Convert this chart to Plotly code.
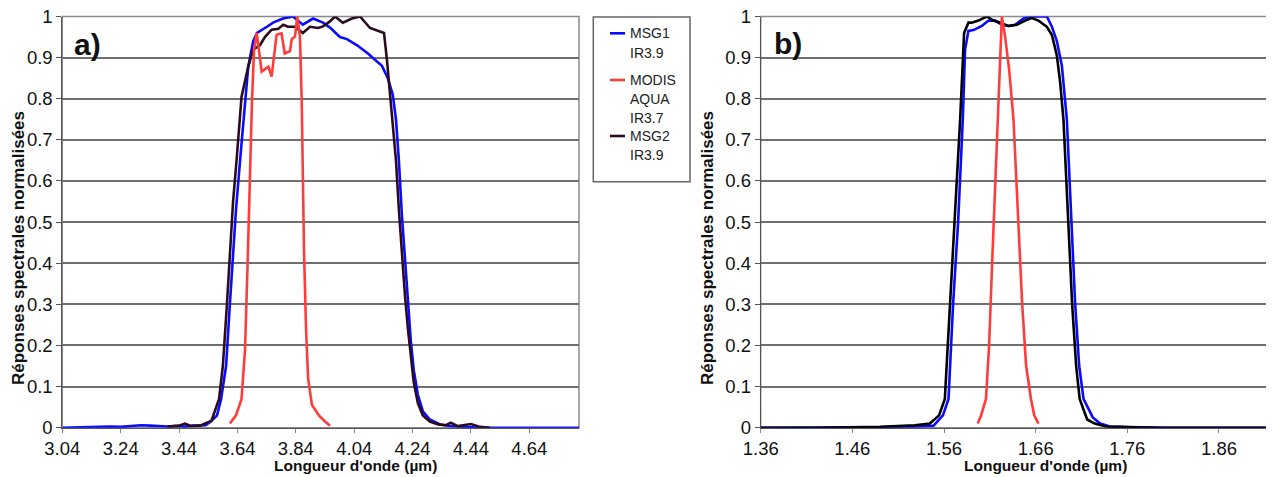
import plotly.graph_objects as go

# ---------------- DATA ----------------
# Panel a) : wavelengths (µm) and normalised responses
msg1_a_wl = [3.040, 3.080, 3.120, 3.160, 3.200, 3.240, 3.280, 3.310, 3.340, 3.370, 3.400, 3.430, 3.460, 3.490,
             3.531, 3.549, 3.570, 3.584, 3.601, 3.614, 3.625, 3.635, 3.649, 3.666, 3.677, 3.694, 3.707, 3.741,
             3.762, 3.796, 3.830, 3.864, 3.899, 3.933, 3.957, 3.991, 4.015, 4.050, 4.070, 4.087, 4.111, 4.135,
             4.155, 4.172, 4.183, 4.193, 4.203, 4.214, 4.224, 4.234, 4.244, 4.258, 4.275, 4.299, 4.334, 4.368,
             4.419, 4.471, 4.550, 4.650, 4.750, 4.810]
msg1_a_val = [0.000, 0.001, 0.002, 0.002, 0.003, 0.002, 0.004, 0.006, 0.005, 0.004, 0.003, 0.004, 0.003, 0.005,
              0.006, 0.015, 0.030, 0.070, 0.150, 0.300, 0.420, 0.530, 0.650, 0.800, 0.878, 0.940, 0.960, 0.975,
              0.985, 0.995, 1.000, 0.980, 0.995, 0.985, 0.973, 0.950, 0.945, 0.930, 0.920, 0.910, 0.895, 0.880,
              0.850, 0.810, 0.750, 0.650, 0.520, 0.400, 0.300, 0.210, 0.140, 0.080, 0.040, 0.020, 0.008, 0.004,
              0.002, 0.000, 0.000, 0.000, 0.000, 0.000]

modis_a_wl = [3.614, 3.635, 3.654, 3.666, 3.676, 3.683, 3.690, 3.697, 3.706, 3.723, 3.740, 3.746, 3.757, 3.774,
              3.780, 3.791, 3.802, 3.820, 3.826, 3.837, 3.845, 3.854, 3.860, 3.863, 3.868, 3.875, 3.882, 3.895,
              3.919, 3.940, 3.957]
modis_a_val = [0.010, 0.030, 0.070, 0.190, 0.430, 0.630, 0.800, 0.920, 0.960, 0.866, 0.874, 0.878, 0.854, 0.955,
               0.957, 0.959, 0.910, 0.916, 0.945, 0.951, 1.000, 0.951, 0.800, 0.650, 0.430, 0.240, 0.120, 0.056,
               0.030, 0.015, 0.005]

msg2_a_wl = [3.400, 3.440, 3.460, 3.480, 3.512, 3.551, 3.577, 3.590, 3.604, 3.614, 3.625, 3.637, 3.654, 3.677,
             3.694, 3.717, 3.734, 3.757, 3.780, 3.797, 3.813, 3.837, 3.864, 3.888, 3.916, 3.933, 3.957, 3.974,
             4.001, 4.032, 4.060, 4.094, 4.128, 4.142, 4.152, 4.162, 4.172, 4.183, 4.193, 4.203, 4.214, 4.224,
             4.234, 4.244, 4.258, 4.275, 4.299, 4.327, 4.354, 4.371, 4.395, 4.440, 4.471, 4.505]
msg2_a_val = [0.003, 0.005, 0.010, 0.004, 0.005, 0.017, 0.070, 0.150, 0.300, 0.430, 0.550, 0.651, 0.805, 0.878,
              0.920, 0.930, 0.950, 0.968, 0.970, 0.980, 0.975, 0.975, 0.960, 0.975, 0.972, 0.976, 0.988, 1.000,
              0.985, 0.995, 1.000, 0.972, 0.963, 0.960, 0.895, 0.820, 0.750, 0.650, 0.530, 0.420, 0.320, 0.240,
              0.170, 0.110, 0.060, 0.030, 0.015, 0.008, 0.006, 0.012, 0.004, 0.009, 0.002, 0.000]

# Panel b)
msg1_b_wl = [1.360, 1.420, 1.490, 1.528, 1.5486, 1.5588, 1.5649, 1.5699, 1.5754, 1.5805, 1.5830, 1.5866, 1.5921,
             1.6013, 1.6085, 1.6158, 1.6231, 1.6303, 1.6376, 1.6467, 1.6558, 1.6722, 1.6777, 1.6831, 1.6886,
             1.6940, 1.6987, 1.7031, 1.7075, 1.7122, 1.7223, 1.7304, 1.7408, 1.7632, 1.800, 1.860, 1.920]
msg1_b_val = [0.000, 0.000, 0.001, 0.003, 0.005, 0.030, 0.070, 0.300, 0.500, 0.750, 0.920, 0.965, 0.967,
              0.977, 0.990, 0.990, 0.980, 0.977, 0.980, 0.995, 1.000, 1.000, 0.975, 0.940, 0.880,
              0.750, 0.500, 0.300, 0.150, 0.070, 0.025, 0.010, 0.003, 0.001, 0.000, 0.000, 0.000]

modis_b_wl = [1.5968, 1.6005, 1.6058, 1.6092, 1.6125, 1.6158, 1.6183, 1.6207, 1.6231, 1.6267, 1.6311, 1.6358,
              1.6409, 1.6453, 1.6496, 1.6549, 1.6584, 1.6631]
modis_b_val = [0.010, 0.030, 0.070, 0.200, 0.400, 0.600, 0.750, 0.900, 1.000, 0.950, 0.870, 0.750,
               0.500, 0.300, 0.150, 0.070, 0.030, 0.010]

msg2_b_wl = [1.360, 1.420, 1.4902, 1.5121, 1.5281, 1.5445, 1.5546, 1.5609, 1.5667, 1.5721, 1.5776, 1.5819,
             1.5866, 1.5903, 1.5976, 1.6067, 1.6139, 1.6212, 1.6303, 1.6395, 1.6485, 1.6558, 1.6631, 1.6722,
             1.6777, 1.6831, 1.6867, 1.6903, 1.6955, 1.6998, 1.7042, 1.7080, 1.7162, 1.7244, 1.7366, 1.7632,
             1.800, 1.860, 1.920]
msg2_b_val = [0.000, 0.000, 0.002, 0.004, 0.006, 0.010, 0.030, 0.070, 0.300, 0.500, 0.750, 0.960,
              0.985, 0.985, 0.990, 1.000, 0.990, 0.985, 0.977, 0.980, 0.990, 0.996, 0.990, 0.975,
              0.955, 0.905, 0.840, 0.750, 0.500, 0.300, 0.150, 0.070, 0.020, 0.010, 0.003, 0.001,
              0.000, 0.000, 0.000]

a_xticks = [3.04, 3.24, 3.44, 3.64, 3.84, 4.04, 4.24, 4.44, 4.64]
a_xticktext = ["3.04", "3.24", "3.44", "3.64", "3.84", "4.04", "4.24", "4.44", "4.64"]
b_xticks = [1.36, 1.46, 1.56, 1.66, 1.76, 1.86]
b_xticktext = ["1.36", "1.46", "1.56", "1.66", "1.76", "1.86"]
yticks = [0, 0.1, 0.2, 0.3, 0.4, 0.5, 0.6, 0.7, 0.8, 0.9, 1.0]
yticktext = ["0", "0.1", "0.2", "0.3", "0.4", "0.5", "0.6", "0.7", "0.8", "0.9", "1"]

legend_lines = [["MSG1", "IR3.9"], ["MODIS", "AQUA", "IR3.7"], ["MSG2", "IR3.9"]]
x_title = "Longueur d'onde (µm)"
y_title = "Réponses spectrales normalisées"
panel_labels = ["a)", "b)"]

# ---------------- STYLE ----------------
OFF = 8  # page body margin
W, H = 1266, 469
BLUE = "#0a0aff"
RED = "#ff3c3c"
DARK_A = "#2b0c1e"
DARK_B = "#000000"
FONT = "Liberation Sans, Arial, sans-serif"

def fx(x):
    return (x - OFF) / W

def fy(y):
    return 1 - (y - OFF) / H

ydom = [fy(427.7), fy(16.5)]
xdom_a = [fx(62.3), fx(579)]
xdom_b = [fx(760.7), fx(1272.7)]

fig = go.Figure()

lw = 2.6
# panel a
fig.add_trace(go.Scatter(x=msg1_a_wl, y=msg1_a_val, mode="lines", line=dict(color=BLUE, width=lw),
                         name="MSG1 IR3.9", xaxis="x", yaxis="y", showlegend=False))
fig.add_trace(go.Scatter(x=msg2_a_wl, y=msg2_a_val, mode="lines", line=dict(color=DARK_A, width=lw),
                         name="MSG2 IR3.9", xaxis="x", yaxis="y", showlegend=False))
fig.add_trace(go.Scatter(x=modis_a_wl, y=modis_a_val, mode="lines", line=dict(color=RED, width=lw),
                         name="MODIS AQUA IR3.7", xaxis="x", yaxis="y", showlegend=False))
# panel b
fig.add_trace(go.Scatter(x=msg1_b_wl, y=msg1_b_val, mode="lines", line=dict(color=BLUE, width=lw),
                         name="MSG1 IR3.9", xaxis="x2", yaxis="y2", showlegend=False))
fig.add_trace(go.Scatter(x=msg2_b_wl, y=msg2_b_val, mode="lines", line=dict(color=DARK_B, width=lw),
                         name="MSG2 IR3.9", xaxis="x2", yaxis="y2", showlegend=False))
fig.add_trace(go.Scatter(x=modis_b_wl, y=modis_b_val, mode="lines", line=dict(color=RED, width=lw),
                         name="MODIS AQUA IR3.7", xaxis="x2", yaxis="y2", showlegend=False))

xcommon = dict(showgrid=False, zeroline=False, ticks="outside", ticklen=4, tickcolor="#888888",
               tickwidth=1, showline=True, linecolor="#555555", linewidth=1, automargin=False,
               ticklabeloverflow="allow",
               tickfont=dict(family=FONT, size=18.5, color="#111111"), ticklabelstandoff=0)
ycommon = dict(range=[0, 1], tickvals=yticks, ticktext=yticktext, showgrid=True, gridcolor="#6f6f6f",
               gridwidth=1.5, zeroline=False, ticks="outside", ticklen=5, tickcolor="#555555",
               showline=True, linecolor="#555555", linewidth=1, domain=ydom, automargin=False,
               ticklabeloverflow="allow",
               tickfont=dict(family=FONT, size=18.5, color="#111111"))

fig.update_layout(
    width=W, height=H, margin=dict(l=0, r=0, t=0, b=0, autoexpand=False),
    paper_bgcolor="white", plot_bgcolor="white", showlegend=False,
    xaxis=dict(domain=xdom_a, range=[3.04, 4.81], tickvals=a_xticks, ticktext=a_xticktext, anchor="y", **xcommon),
    yaxis=dict(anchor="x", **ycommon),
    xaxis2=dict(domain=xdom_b, range=[1.36, 1.9186], tickvals=b_xticks, ticktext=b_xticktext, anchor="y2", **xcommon),
    yaxis2=dict(anchor="x2", **ycommon),
)

shapes = []
# plot borders
for xd in (xdom_a, xdom_b):
    shapes.append(dict(type="rect", xref="paper", yref="paper", x0=xd[0], x1=xd[1], y0=ydom[0], y1=ydom[1],
                       line=dict(color="#8a8a8a", width=1.5), layer="below"))
# legend box
shapes.append(dict(type="rect", xref="paper", yref="paper", x0=fx(593.3), x1=fx(690), y0=fy(181.7), y1=fy(17),
                   line=dict(color="#666666", width=1.5), fillcolor="white"))
legend_colors = [BLUE, RED, DARK_A]
legend_y = [33.3, 80, 136]
line_step = 19.2
annotations = []
for names, col, y0 in zip(legend_lines, legend_colors, legend_y):
    shapes.append(dict(type="line", xref="paper", yref="paper", x0=fx(610), x1=fx(625), y0=fy(y0), y1=fy(y0),
                       line=dict(color=col, width=2.6)))
    for k, t in enumerate(names):
        annotations.append(dict(text=t, xref="paper", yref="paper", x=fx(627.5), y=fy(y0 + k * line_step),
                                xanchor="left", yanchor="middle", showarrow=False,
                                font=dict(family=FONT, size=14, color="#222222")))

# panel labels
annotations.append(dict(text="<b>" + panel_labels[0] + "</b>", xref="paper", yref="paper", x=fx(72), y=fy(45),
                        xanchor="left", yanchor="middle", showarrow=False,
                        font=dict(family=FONT, size=30, color="#111111")))
annotations.append(dict(text="<b>" + panel_labels[1] + "</b>", xref="paper", yref="paper", x=fx(772), y=fy(43),
                        xanchor="left", yanchor="middle", showarrow=False,
                        font=dict(family=FONT, size=30, color="#111111")))
# axis titles
for cx in (355, 1045.5):
    annotations.append(dict(text="<b>" + x_title + "</b>", xref="paper", yref="paper", x=fx(cx), y=fy(465),
                            xanchor="center", yanchor="middle", showarrow=False,
                            font=dict(family=FONT, size=15.5, color="#111111")))
for cx in (18, 707):
    annotations.append(dict(text="<b>" + y_title + "</b>", xref="paper", yref="paper", x=fx(cx), y=fy(248),
                            xanchor="center", yanchor="middle", showarrow=False, textangle=-90,
                            font=dict(family=FONT, size=17, color="#111111")))

fig.update_layout(shapes=shapes, annotations=annotations)
fig.write_html("out.html")
